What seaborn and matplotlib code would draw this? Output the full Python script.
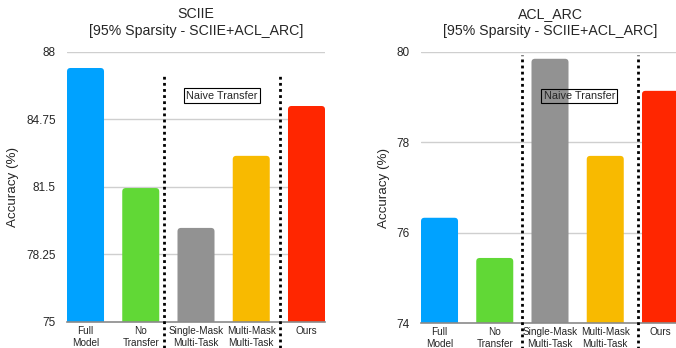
import matplotlib
matplotlib.use("Agg")
import matplotlib.pyplot as plt
from matplotlib.patches import FancyBboxPatch
import seaborn as sns
import pandas as pd

categories = ["Full\nModel", "No\nTransfer", "Single-Mask\nMulti-Task", "Multi-Mask\nMulti-Task", "Ours"]
sciie_acc = [87.23, 81.45, 79.53, 83.0, 85.4]
aclarc_acc = [76.33, 75.44, 79.85, 77.7, 79.14]
sciie_ticks = [75, 78.25, 81.5, 84.75, 88]
aclarc_ticks = [74, 76, 78, 80]
colors = ["#00A2FF", "#61D836", "#929292", "#F8BA00", "#FF2600"]

sns.set_theme(style="white")
plt.rcParams["font.family"] = ["Liberation Sans", "DejaVu Sans"]

fig = plt.figure(figsize=(6.76, 3.48), dpi=100)
W, H = 676, 348

def make_axes(left_px, right_px, top_px, bottom_px):
    return fig.add_axes([left_px / W, 1 - bottom_px / H, (right_px - left_px) / W, (bottom_px - top_px) / H])

ax1 = make_axes(67, 325, 52, 322)
ax2 = make_axes(421, 679, 52, 323)

panels = [
    (ax1, sciie_acc, sciie_ticks, ["75", "78.25", "81.5", "84.75", "88"], "SCIIE\n[95% Sparsity - SCIIE+ACL_ARC]",
     [1.42, 3.52], 86.99, 73.75, (2.47, 85.9)),
    (ax2, aclarc_acc, aclarc_ticks, ["74", "76", "78", "80"], "ACL_ARC\n[95% Sparsity - SCIIE+ACL_ARC]",
     [1.49, 3.59], 79.93, 73.4, (2.53, 79.03)),
]

for ax, vals, ticks, ticklabels, title, seps, ytop, ybot, txtpos in panels:
    df = pd.DataFrame({"cat": categories, "acc": vals})
    sns.barplot(data=df, x="cat", y="acc", hue="cat", palette=colors, legend=False,
                width=0.67, saturation=1, ax=ax, zorder=2)
    ax.set_ylim(ticks[0], ticks[-1])
    ax.set_xlim(-0.335, 4.335)
    ax.set_yticks(ticks)
    ax.set_yticklabels(ticklabels, fontsize=8.5)
    ax.tick_params(axis="y", length=0, pad=8)
    ax.tick_params(axis="x", length=0, pad=3, labelsize=7.2)
    ax.set_xlabel("")
    ax.set_ylabel("Accuracy (%)", fontsize=9.6, labelpad=5)
    ax.set_title(title, fontsize=10.2, pad=12, linespacing=1.3)

    # rounded bar tops: replace seaborn's rectangles with rounded patches of same geometry
    bbox = ax.get_window_extent()
    xr = ax.get_xlim()[1] - ax.get_xlim()[0]
    yr = ax.get_ylim()[1] - ax.get_ylim()[0]
    x_per_px = xr / bbox.width
    y_per_px = yr / bbox.height
    radius_px = 3.5
    for p in list(ax.patches):
        x0, w = p.get_x(), p.get_width()
        h = p.get_height()
        fc = p.get_facecolor()
        bottom = ticks[0] - 1.0
        top = p.get_y() + h
        p.remove()
        fb = FancyBboxPatch((x0, bottom), w, top - bottom,
                            boxstyle=f"round,pad=0,rounding_size={radius_px * x_per_px}",
                            mutation_aspect=y_per_px / x_per_px,
                            fc=fc, ec="none", zorder=2)
        ax.add_patch(fb)

    for v in ticks[1:]:
        ax.axhline(v, color="#cfcfcf", lw=1, zorder=1)
    for s in ["top", "right", "left"]:
        ax.spines[s].set_visible(False)
    ax.spines["bottom"].set_color("#8a8a8a")
    ax.spines["bottom"].set_linewidth(1.2)
    ax.spines["bottom"].set_zorder(3)
    for x in seps:
        ax.plot([x, x], [ybot, ytop], color="black", lw=2, ls=(0, (1, 1.2)),
                clip_on=False, zorder=4)
    ax.text(txtpos[0], txtpos[1], "Naive Transfer", fontsize=7.8, ha="center", va="center",
            zorder=5, bbox=dict(boxstyle="square,pad=0.2", fc="none", ec="black", lw=0.8))

fig.savefig("out.png", dpi=100)
